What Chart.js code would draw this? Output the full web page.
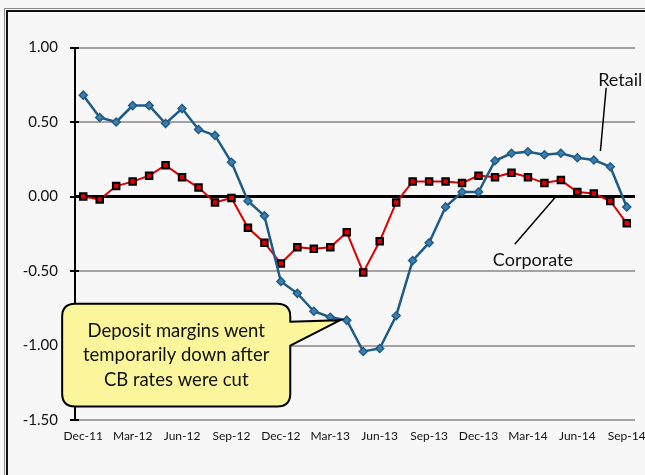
<!DOCTYPE html>
<html>
<head>
<meta charset="utf-8">
<script src="https://cdn.jsdelivr.net/npm/chart.js@4/dist/chart.umd.min.js"></script>
<style>
  html, body { margin: 0; padding: 0; background: #f7f7f7; }
  body { width: 645px; height: 475px; overflow: hidden; position: relative; }
  #frameOuter { position: absolute; left: 4px; top: 8px; width: 700px; height: 600px;
    border-left: 1px solid #8a8a8a; border-top: 1px solid #8a8a8a; }
  #frameInner { position: absolute; left: 6px; top: 10px; width: 700px; height: 600px;
    border-left: 2px solid #111; border-top: 2px solid #111; }
  canvas { position: absolute; left: 0; top: 0; }
</style>
</head>
<body>
<div id="frameOuter"></div>
<div id="frameInner"></div>
<canvas id="c" width="645" height="475"></canvas>
<script>
// ---- Data ----
const months = [
  "Dec-11","Jan-12","Feb-12","Mar-12","Apr-12","May-12","Jun-12","Jul-12","Aug-12","Sep-12",
  "Oct-12","Nov-12","Dec-12","Jan-13","Feb-13","Mar-13","Apr-13","May-13","Jun-13","Jul-13",
  "Aug-13","Sep-13","Oct-13","Nov-13","Dec-13","Jan-14","Feb-14","Mar-14","Apr-14","May-14",
  "Jun-14","Jul-14","Aug-14","Sep-14"
];
const retail = [
  0.68, 0.53, 0.50, 0.61, 0.61, 0.49, 0.59, 0.45, 0.41, 0.23,
  -0.03, -0.13, -0.57, -0.65, -0.77, -0.81, -0.83, -1.04, -1.02, -0.80,
  -0.43, -0.31, -0.07, 0.03, 0.03, 0.24, 0.29, 0.30, 0.28, 0.29,
  0.26, 0.245, 0.20, -0.07
];
const corporate = [
  0.00, -0.02, 0.07, 0.10, 0.14, 0.21, 0.13, 0.06, -0.04, -0.01,
  -0.21, -0.31, -0.45, -0.34, -0.35, -0.34, -0.24, -0.51, -0.30, -0.04,
  0.10, 0.10, 0.10, 0.09, 0.14, 0.13, 0.16, 0.13, 0.09, 0.11,
  0.03, 0.02, -0.03, -0.18
];
const yTicks = [-1.5, -1.0, -0.5, 0.0, 0.5, 1.0];
const calloutLines = ["Deposit margins went", "temporarily down after", "CB rates were cut"];
const seriesNames = ["Retail", "Corporate"];

const FONT = "Lato, 'Open Sans', 'DejaVu Sans', sans-serif";

const axisDecor = {
  id: 'axisDecor',
  afterDatasetsDraw(chart) {
    const ctx = chart.ctx;
    const xs = chart.scales.x, ys = chart.scales.y;
    const left = chart.chartArea.left;
    ctx.save();
    // crossing tick marks on the value axis
    ctx.strokeStyle = '#000';
    ctx.lineWidth = 2;
    yTicks.forEach(v => {
      const py = Math.round(ys.getPixelForValue(v));
      ctx.beginPath();
      ctx.moveTo(left - 5, py);
      ctx.lineTo(left + 4, py);
      ctx.stroke();
    });

    // Series labels with leader lines
    ctx.fillStyle = '#111';
    ctx.font = "18px " + FONT;
    ctx.textAlign = 'center';
    ctx.textBaseline = 'middle';
    ctx.fillText(seriesNames[0], xs.getPixelForValue(32.6), ys.getPixelForValue(0.78));
    ctx.fillText(seriesNames[1], xs.getPixelForValue(27.3), ys.getPixelForValue(-0.43));
    ctx.strokeStyle = '#000';
    ctx.lineWidth = 1.5;
    ctx.beginPath();
    ctx.moveTo(xs.getPixelForValue(31.75), ys.getPixelForValue(0.73));
    ctx.lineTo(xs.getPixelForValue(31.4), ys.getPixelForValue(0.305));
    ctx.moveTo(xs.getPixelForValue(26.2), ys.getPixelForValue(-0.32));
    ctx.lineTo(xs.getPixelForValue(28.7), ys.getPixelForValue(0.0));
    ctx.stroke();

    // Callout
    const L = xs.getPixelForValue(-1.28), R = xs.getPixelForValue(12.57);
    const T = ys.getPixelForValue(-0.72), B = ys.getPixelForValue(-1.41);
    const tipX = xs.getPixelForValue(15.6), tipY = ys.getPixelForValue(-0.83);
    const baseTop = ys.getPixelForValue(-0.84), baseBot = ys.getPixelForValue(-1.0);
    const r = 13;
    ctx.beginPath();
    ctx.moveTo(L + r, T);
    ctx.lineTo(R - r, T);
    ctx.quadraticCurveTo(R, T, R, T + r);
    ctx.lineTo(R, baseTop);
    ctx.lineTo(tipX, tipY);
    ctx.lineTo(R, baseBot);
    ctx.lineTo(R, B - r);
    ctx.quadraticCurveTo(R, B, R - r, B);
    ctx.lineTo(L + r, B);
    ctx.quadraticCurveTo(L, B, L, B - r);
    ctx.lineTo(L, T + r);
    ctx.quadraticCurveTo(L, T, L + r, T);
    ctx.closePath();
    ctx.fillStyle = '#fbf69c';
    ctx.fill();
    ctx.lineWidth = 2;
    ctx.strokeStyle = '#000';
    ctx.stroke();

    ctx.fillStyle = '#111';
    ctx.font = "18.5px " + FONT;
    const cx = (L + R) / 2;
    const cy = (T + B) / 2;
    const lh = 24.5;
    calloutLines.forEach((s, i) => {
      ctx.fillText(s, cx, cy + (i - 1) * lh);
    });
    ctx.restore();
  }
};

new Chart(document.getElementById('c'), {
  type: 'line',
  data: {
    labels: months,
    datasets: [
      {
        label: seriesNames[0],
        data: retail,
        borderColor: '#1e5c87',
        backgroundColor: '#3f7eab',
        pointBorderColor: '#1e5c87',
        borderWidth: 2.5,
        pointStyle: 'rectRot',
        pointRadius: 4,
        pointBorderWidth: 1.5,
        tension: 0,
        order: 0
      },
      {
        label: seriesNames[1],
        data: corporate,
        borderColor: '#dd0000',
        backgroundColor: '#dd0000',
        pointBorderColor: '#000',
        borderWidth: 2,
        pointStyle: 'rect',
        pointRadius: 4.6,
        pointBorderWidth: 2,
        tension: 0,
        order: 1
      }
    ]
  },
  options: {
    responsive: false,
    animation: false,
    events: [],
    layout: { padding: { top: 47.5, right: 10, left: 0, bottom: 0 } },
    plugins: { legend: { display: false }, tooltip: { enabled: false } },
    scales: {
      x: {
        type: 'category',
        offset: true,
        grid: { display: false, drawTicks: false },
        border: { display: false },
        ticks: {
          autoSkip: false,
          maxRotation: 0,
          minRotation: 0,
          padding: 9,
          color: '#111',
          font: { family: FONT, size: 12 },
          callback: function(val, idx) { return idx % 3 === 0 ? months[idx] : ''; }
        },
        afterFit(scale) {
          scale.height = 55;
          scale.paddingLeft = 0;
          scale.paddingRight = 0;
        }
      },
      y: {
        min: -1.5,
        max: 1.0,
        afterBuildTicks(scale) { scale.ticks = yTicks.map(v => ({ value: v })); },
        grid: {
          drawTicks: false,
          color: ctx => (ctx.tick && ctx.tick.value === 0) ? '#000' : '#a3a3a3',
          lineWidth: ctx => (ctx.tick && ctx.tick.value === 0) ? 3 : 2
        },
        border: { display: true, color: '#000', width: 2 },
        ticks: {
          padding: 17,
          color: '#111',
          font: { family: FONT, size: 15 },
          callback: v => Number(v).toFixed(2)
        },
        afterFit(scale) {
          scale.width = 75;
          scale.paddingTop = 0;
          scale.paddingBottom = 0;
        }
      }
    }
  },
  plugins: [axisDecor]
});
</script>
</body>
</html>
